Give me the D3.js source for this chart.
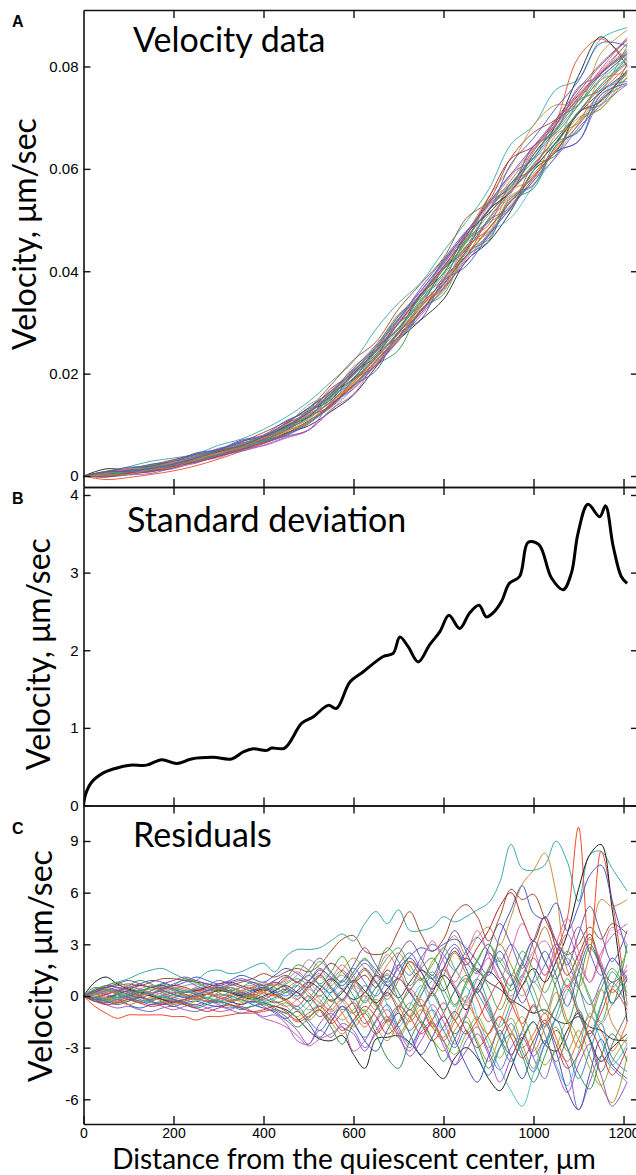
<!DOCTYPE html>
<html><head><meta charset="utf-8">
<script src="https://cdn.jsdelivr.net/npm/d3@7"></script>
<style>
html,body{margin:0;padding:0;background:#fff;}
svg{display:block;}
.tick text{font-family:"Liberation Sans",Arial,sans-serif;font-size:15px;fill:#000;}
.xt .tick text{font-size:14px;}
.big{font-family:Lato,"Noto Sans",sans-serif;fill:#000;}
.letter{font-family:"Liberation Sans",Arial,sans-serif;font-weight:bold;font-size:16px;fill:#000;}
</style></head><body>
<svg id="chart" width="636" height="1175"></svg>
<script>
// ---------- data ----------
const distanceA = [0,50,100,150,200,250,300,350,400,450,500,550,600,650,700,750,800,850,900,950,1000,1050,1100,1150,1208];
const distanceC = [0,25,50,75,100,125,150,175,200,225,250,275,300,325,350,375,400,425,450,475,500,525,550,575,600,625,650,675,700,725,750,775,800,825,850,875,900,925,950,975,1000,1025,1050,1075,1100,1125,1150,1175,1208];

const velocitySeries = [
[0,.0009,.0018,.0029,.0035,.0043,.0060,.0072,.0091,.0115,.0145,.0184,.0224,.0287,.0338,.0378,.0439,.0496,.0559,.0648,.0685,.0755,.0775,.0854,.0876],
[0,-.0007,-.0003,.0003,.0010,.0020,.0033,.0048,.0063,.0082,.0106,.0138,.0182,.0233,.0280,.0335,.0383,.0460,.0490,.0572,.0602,.0690,.0818,.0854,.0810],
[0,.0014,.0012,.0019,.0026,.0037,.0049,.0058,.0076,.0090,.0126,.0149,.0201,.0234,.0298,.0334,.0405,.0442,.0519,.0556,.0628,.0685,.0782,.0858,.0800],
[0,.0004,.0008,.0015,.0019,.0034,.0044,.0053,.0068,.0084,.0098,.0126,.0158,.0213,.0265,.0305,.0345,.0420,.0457,.0518,.0597,.0633,.0710,.0732,.0793],
[0,.0008,.0015,.0022,.0032,.0042,.0050,.0066,.0085,.0106,.0132,.0178,.0227,.0262,.0326,.0376,.0426,.0503,.0537,.0622,.0671,.0697,.0750,.0803,.0851],
[0,.0000,.0011,.0014,.0026,.0035,.0047,.0061,.0076,.0097,.0127,.0158,.0214,.0246,.0313,.0349,.0421,.0474,.0545,.0606,.0685,.0725,.0725,.0826,.0871],
[0,.0007,.0013,.0023,.0028,.0045,.0052,.0070,.0080,.0108,.0127,.0163,.0206,.0253,.0304,.0368,.0423,.0478,.0517,.0610,.0660,.0719,.0772,.0846,.0840],
[0,.0006,.0014,.0021,.0028,.0042,.0048,.0060,.0074,.0102,.0133,.0166,.0204,.0252,.0308,.0356,.0403,.0458,.0535,.0563,.0644,.0670,.0725,.0786,.0845],
[0,-.0002,.0002,.0005,.0016,.0025,.0039,.0048,.0060,.0076,.0090,.0128,.0172,.0216,.0264,.0319,.0364,.0424,.0473,.0530,.0576,.0633,.0654,.0735,.0765],
[0,.0001,.0005,.0011,.0014,.0029,.0036,.0052,.0059,.0074,.0089,.0130,.0160,.0223,.0268,.0322,.0378,.0440,.0497,.0552,.0634,.0689,.0740,.0795,.0857],
[0,.0007,.0009,.0019,.0023,.0036,.0047,.0055,.0069,.0088,.0106,.0137,.0178,.0220,.0273,.0326,.0361,.0438,.0467,.0547,.0570,.0647,.0700,.0718,.0780],
[0,.0005,.0010,.0012,.0025,.0032,.0044,.0059,.0068,.0095,.0110,.0157,.0182,.0246,.0270,.0346,.0373,.0455,.0477,.0505,.0567,.0625,.0688,.0744,.0787],
[0,.0004,.0009,.0020,.0026,.0041,.0049,.0063,.0076,.0100,.0139,.0161,.0196,.0243,.0290,.0341,.0408,.0446,.0521,.0570,.0620,.0651,.0732,.0754,.0821],
[0,.0009,.0012,.0019,.0028,.0037,.0052,.0064,.0075,.0103,.0123,.0171,.0200,.0243,.0298,.0354,.0409,.0468,.0543,.0620,.0644,.0693,.0744,.0788,.0830],
[0,-.0001,.0003,.0009,.0016,.0031,.0039,.0056,.0065,.0079,.0102,.0137,.0177,.0206,.0278,.0306,.0381,.0410,.0470,.0525,.0582,.0633,.0654,.0745,.0767],
[0,.0001,.0006,.0011,.0020,.0028,.0042,.0051,.0067,.0080,.0105,.0134,.0176,.0216,.0246,.0325,.0355,.0435,.0463,.0538,.0562,.0645,.0675,.0735,.0777],
[0,.0003,.0007,.0014,.0021,.0038,.0045,.0061,.0074,.0096,.0120,.0144,.0182,.0230,.0282,.0332,.0367,.0445,.0483,.0540,.0590,.0641,.0695,.0750,.0800],
[0,.0004,.0013,.0016,.0029,.0040,.0049,.0067,.0077,.0097,.0126,.0162,.0204,.0250,.0306,.0356,.0415,.0470,.0530,.0566,.0644,.0675,.0760,.0782,.0825],
[0,.0000,.0008,.0010,.0021,.0032,.0046,.0056,.0071,.0089,.0116,.0152,.0189,.0234,.0282,.0350,.0385,.0462,.0495,.0522,.0597,.0653,.0710,.0765,.0809],
[0,.0002,.0011,.0014,.0018,.0033,.0048,.0058,.0072,.0098,.0115,.0162,.0190,.0250,.0287,.0355,.0396,.0472,.0513,.0558,.0602,.0651,.0708,.0750,.0789],
[0,.0006,.0007,.0016,.0021,.0034,.0045,.0057,.0073,.0086,.0122,.0143,.0198,.0230,.0298,.0334,.0409,.0447,.0527,.0560,.0638,.0685,.0740,.0790,.0833],
[0,.0001,.0006,.0015,.0019,.0031,.0042,.0054,.0067,.0086,.0112,.0145,.0184,.0232,.0264,.0334,.0367,.0428,.0481,.0538,.0584,.0635,.0695,.0718,.0791],
[0,.0006,.0011,.0017,.0026,.0038,.0054,.0063,.0077,.0092,.0130,.0154,.0208,.0238,.0306,.0362,.0417,.0476,.0531,.0590,.0620,.0695,.0725,.0778,.0823],
[0,-.0001,.0007,.0009,.0020,.0029,.0040,.0053,.0066,.0078,.0090,.0142,.0170,.0218,.0266,.0314,.0367,.0418,.0471,.0524,.0577,.0623,.0680,.0724,.0765],
[0,.0009,.0013,.0019,.0027,.0035,.0051,.0060,.0079,.0094,.0130,.0165,.0206,.0252,.0316,.0350,.0421,.0458,.0535,.0572,.0627,.0680,.0735,.0755,.0841],
[0,.0004,.0010,.0012,.0024,.0033,.0043,.0060,.0070,.0090,.0118,.0136,.0188,.0216,.0282,.0318,.0389,.0428,.0503,.0556,.0607,.0659,.0710,.0760,.0807],
[0,.0007,.0006,.0017,.0025,.0032,.0049,.0057,.0076,.0095,.0123,.0156,.0198,.0246,.0297,.0350,.0405,.0463,.0521,.0578,.0636,.0687,.0738,.0786,.0827],
[0,.0000,.0005,.0011,.0018,.0034,.0041,.0057,.0071,.0090,.0114,.0146,.0187,.0230,.0279,.0330,.0383,.0438,.0499,.0526,.0606,.0627,.0712,.0726,.0805],
[0,.0005,.0014,.0016,.0027,.0036,.0051,.0061,.0080,.0101,.0126,.0162,.0202,.0250,.0303,.0358,.0413,.0472,.0529,.0586,.0640,.0695,.0746,.0792,.0845],
[0,.0002,.0007,.0012,.0020,.0027,.0042,.0050,.0068,.0082,.0104,.0140,.0176,.0224,.0270,.0322,.0373,.0430,.0459,.0544,.0568,.0651,.0672,.0754,.0771],
[0,.0006,.0008,.0018,.0022,.0039,.0050,.0063,.0078,.0099,.0124,.0160,.0198,.0243,.0290,.0344,.0397,.0456,.0510,.0566,.0616,.0673,.0726,.0774,.0817],
[0,-.0002,.0006,.0008,.0019,.0027,.0038,.0051,.0064,.0083,.0108,.0140,.0178,.0226,.0272,.0324,.0375,.0430,.0483,.0536,.0586,.0637,.0686,.0738,.0785],
[0,.0008,.0017,.0019,.0031,.0043,.0051,.0068,.0078,.0104,.0133,.0166,.0210,.0256,.0312,.0362,.0419,.0476,.0533,.0590,.0644,.0697,.0756,.0806,.0853],
[0,.0001,.0009,.0015,.0023,.0035,.0042,.0059,.0069,.0094,.0118,.0154,.0192,.0239,.0286,.0340,.0393,.0448,.0501,.0556,.0610,.0659,.0712,.0764,.0815],
[0,.0002,.0003,.0013,.0017,.0033,.0044,.0056,.0074,.0089,.0104,.0150,.0174,.0236,.0266,.0338,.0369,.0450,.0475,.0558,.0580,.0667,.0690,.0774,.0787],
[0,.0008,.0009,.0015,.0023,.0035,.0050,.0059,.0077,.0096,.0124,.0157,.0200,.0246,.0300,.0354,.0409,.0466,.0519,.0572,.0622,.0677,.0734,.0786,.0825]
];

const residualSeries = [
[0,0.4,0.6,0.8,1.0,1.3,1.5,1.6,1.3,1.0,0.9,1.4,1.5,1.3,1.4,1.7,1.9,1.4,2.3,2.7,2.7,2.8,3.2,3.6,3.2,4.2,4.9,4.2,5.0,3.8,3.8,4.0,4.6,4.3,4.6,5.0,5.4,6.6,8.8,7.4,7.3,7.6,9.0,7.8,5.5,8.2,8.4,7.4,6.1],
[0,-0.6,-1.0,-1.3,-1.1,-1.1,-1.1,-1.1,-1.2,-1.2,-1.4,-1.2,-1.2,-1.1,-1.0,-1.0,-0.9,-0.8,-1.0,-1.5,-1.2,-0.8,-1.4,-0.6,-1.0,0.2,-0.5,-1.5,-0.8,0.4,-0.5,-1.8,-1.0,0.3,1.0,-0.2,-1.5,-0.4,1.2,0.5,-1.0,0.8,2.5,4.5,9.8,2.5,8.4,5.5,-0.5],
[0,0.8,1.1,0.7,0.4,0.3,0.5,0.6,0.4,0.2,0.3,0.5,0.4,0.2,0.0,0.2,0.4,0.1,-0.2,0.3,0.8,0.4,-0.3,0.2,0.9,0.3,-0.4,0.4,1.0,0.2,-0.6,0.2,1.2,0.4,-0.8,0.5,1.4,0.8,-0.4,0.6,1.6,0.8,2.0,3.6,6.2,8.2,8.8,5.0,-1.5],
[0,0.3,0.1,-0.1,0,0.2,0.1,-0.2,-0.3,-0.2,0,0.1,-0.1,-0.3,-0.5,-0.3,-0.4,-0.6,-0.8,-1.3,-2.0,-2.5,-2.6,-2.3,-3.4,-4.2,-2.5,-2.4,-2.3,-2.7,-3.5,-4.2,-4.8,-3.6,-3.0,-3.6,-4.8,-5.5,-4.2,-2.5,-1.5,-2.8,-3.2,-2.0,-1.0,-2.5,-3.8,-3.0,-2.2],
[0,0.3,0.5,0.6,0.7,0.6,0.8,1.0,1.0,0.9,0.8,0.7,0.5,0.6,0.8,1.0,1.3,1.1,1.4,1.6,1.4,1.8,2.6,3.3,3.5,2.6,2.4,2.6,3.8,4.9,3.6,2.6,3.3,4.8,5.3,4.6,3.2,4.6,6.2,5.6,5.9,4.5,3.2,2.4,3.0,4.0,3.3,4.2,3.6],
[0,-0.2,-0.3,0.1,0.3,0.2,0,0.2,0.4,0.3,0.1,-0.1,0.2,0.5,0.3,0,0.4,0.8,0.5,0.2,0.9,1.3,0.6,1.5,2.2,1.6,0.8,1.8,2.5,1.5,0.9,2.0,2.8,3.5,2.4,3.4,4.0,3.0,4.6,6.5,7.3,8.3,6.0,1.5,0.5,2.5,5.6,5.2,5.6],
[0,0.2,0.4,0.3,0.5,0.7,0.9,0.8,0.6,0.8,1.1,0.9,0.7,0.9,1.2,1.0,0.8,1.2,1.6,1.3,0.9,1.5,1.1,0.6,1.4,2.1,1.5,0.8,1.6,2.3,2.8,2.6,3.0,3.3,2.8,2.0,1.2,3.5,5.0,6.4,4.8,4.5,5.4,3.8,5.2,7.0,7.6,5.5,2.5],
[0,0.5,0.3,0.2,0.6,0.9,0.7,0.4,0.6,1.0,0.8,0.5,0.3,0.5,0.2,-0.1,0.2,0.6,1.0,1.8,1.5,0.7,1.4,2.3,1.2,0.2,1.4,2.8,2.0,0.6,1.6,2.2,1.0,-0.5,0.8,2.1,3.0,1.5,0.3,1.8,3.2,2.0,0.5,-1.5,0.5,2.8,1.6,-0.5,3.0],
[0,-0.2,-0.5,-0.7,-0.6,-0.8,-0.9,-0.7,-0.6,-0.8,-0.9,-0.7,-0.6,-0.8,-1.0,-0.9,-1.2,-1.1,-1.6,-2.6,-2.8,-2.0,-2.4,-1.6,-2.0,-3.0,-2.2,-1.4,-2.4,-3.2,-2.1,-1.5,-2.9,-4.0,-2.6,-1.8,-3.2,-4.3,-3.0,-2.2,-3.6,-4.8,-3.2,-4.0,-6.6,-5.0,-3.5,-4.2,-5.0],
[0,0.1,-0.2,-0.4,-0.3,-0.1,-0.3,-0.6,-0.8,-0.6,-0.5,-0.7,-0.9,-0.8,-0.6,-0.9,-1.3,-1.5,-1.8,-2.3,-2.9,-2.5,-2.2,-1.8,-3.2,-2.6,-1.5,-0.8,-2.0,-3.0,-1.8,-0.5,-1.5,-2.8,-1.0,0.4,-0.8,-2.2,-0.8,1.0,2.2,1.2,2.4,3.6,2.0,0.8,2.5,3.5,4.2],
[0,0.2,0.4,0.2,0.1,0.3,0.5,0.3,0.1,0.0,0.2,0.4,0.2,-0.1,-0.3,-0.1,-0.3,-0.6,-0.4,-0.8,-1.2,-0.6,-1.5,-2.2,-1.4,-0.8,-1.8,-2.6,-1.5,-0.4,-1.4,-2.5,-3.2,-2.0,-1.2,-2.6,-3.8,-2.4,-1.3,-2.8,-4.2,-2.8,-1.8,-3.2,-2.0,-3.5,-5.2,-6.2,-3.5],
[0,-0.1,0.2,0.4,0.2,0.0,-0.2,0.1,0.3,0.1,-0.2,-0.3,-0.1,0.2,0.1,-0.2,-0.4,-0.2,0.3,-0.2,-0.8,-0.4,0.5,-0.3,-1.0,-0.2,0.8,-0.5,-1.8,-0.6,0.6,-0.8,-2.0,-0.9,0.5,-1.2,-2.8,-4.2,-5.5,-6.4,-4.5,-2.6,-4.0,-5.2,-3.2,-1.0,-2.6,-4.0,-2.8],
[0,0.3,0.1,-0.1,0.1,0.4,0.6,0.5,0.4,0.6,0.7,0.5,0.4,0.3,0.5,0.6,0.4,0.3,0.8,1.2,2.1,1.6,0.9,1.2,0.4,-0.3,0.5,1.3,0.2,-0.8,0.1,0.9,1.5,0.5,-0.4,0.3,1.6,2.2,1.0,0.0,0.8,-0.2,-1.4,0.2,1.2,-0.2,-1.6,-0.5,0.6],
[0,0.3,0.6,0.5,0.4,0.6,0.5,0.4,0.6,0.5,0.3,0.5,0.7,0.8,0.6,0.4,0.3,0.6,1.1,0.8,0.5,1.2,1.9,1.4,0.8,1.2,0.5,1.5,1.0,2.0,1.4,0.4,1.6,2.6,1.8,2.8,3.8,5.2,6.0,4.5,3.2,4.6,2.8,1.2,2.4,3.6,1.8,0.8,1.5],
[0,-0.3,-0.4,-0.2,-0.5,-0.7,-0.5,-0.4,-0.6,-0.4,-0.3,-0.5,-0.6,-0.4,-0.2,-0.5,-0.7,-0.9,-1.3,-0.9,-1.6,-2.4,-1.5,-0.6,-1.5,-2.6,-3.2,-2.0,-1.0,-2.2,-3.4,-2.4,-1.2,-2.5,-4.0,-5.0,-3.5,-2.0,-3.5,-4.8,-3.0,-1.6,-3.2,-5.5,-6.6,-4.5,-2.5,-4.0,-4.8],
[0,-0.3,-0.2,0.0,-0.2,-0.4,-0.3,-0.1,-0.2,-0.4,-0.6,-0.4,-0.3,-0.5,-0.7,-0.6,-0.5,-0.8,-1.2,-1.8,-1.3,-0.8,-1.8,-2.8,-1.6,-1.0,-2.2,-3.6,-4.2,-2.6,-1.5,-2.5,-3.8,-2.5,-1.5,-2.8,-4.2,-3.0,-2.2,-3.5,-5.0,-3.5,-2.0,-3.0,-4.5,-5.4,-3.5,-2.2,-3.8],
[0,0.1,0.0,-0.2,-0.1,0.1,0.0,-0.2,-0.1,0.2,0.4,0.2,0.0,0.1,0.3,0.5,0.2,0.0,0.4,0.8,0.2,-0.4,-0.8,-0.2,-1.0,-1.8,-0.8,0.2,-0.6,-1.5,-0.8,-1.8,-2.6,-1.5,-0.5,-1.4,-2.2,-1.2,-2.0,-3.0,-2.2,-1.0,-2.4,-3.8,-2.5,-1.2,-2.0,-3.2,-1.5],
[0,0.2,0.1,0.3,0.5,0.4,0.2,0.4,0.7,0.9,0.6,0.3,0.4,0.7,0.9,0.7,0.5,0.8,0.5,0.2,0.8,1.6,1.0,0.4,1.2,1.9,1.2,0.6,1.8,2.5,1.6,1.0,2.2,3.0,2.0,1.3,2.5,1.5,0.6,2.0,3.2,2.0,1.0,2.5,4.0,2.5,1.2,2.2,1.0],
[0,-0.1,-0.3,-0.2,0.0,-0.2,-0.4,-0.3,-0.1,0.0,-0.2,-0.1,0.1,0.0,-0.2,-0.4,-0.1,0.2,-0.3,-0.8,-0.2,0.6,0.0,-0.8,-0.3,0.6,-0.4,-1.4,-0.6,0.3,1.0,0.2,-0.8,0.3,1.2,0.2,-1.0,-2.5,-3.8,-2.6,-1.5,-2.8,-1.2,0.4,-1.0,-2.2,-0.5,0.8,-0.6],
[0,-0.2,-0.1,0.1,0.3,0.2,0.0,-0.2,-0.4,-0.3,-0.1,0.1,0.3,0.2,0.0,-0.2,0.0,0.3,0.6,0.2,-0.3,0.4,1.0,0.4,-0.2,0.2,1.2,0.6,-0.1,0.8,1.5,1.0,0.3,1.4,2.2,1.5,0.8,0.4,-0.2,-0.6,-1.0,-0.8,-1.4,-1.6,-1.2,-1.8,-2.0,-2.5,-2.6],
[0,0.2,0.3,0.1,-0.1,0.0,0.2,0.1,-0.1,-0.2,0.0,0.2,0.0,-0.2,-0.1,0.2,0.1,-0.3,-0.6,-0.2,0.4,-0.2,-0.9,-0.3,0.6,0.0,-0.8,0.2,1.0,0.3,-0.6,0.5,1.6,0.6,-0.3,1.0,2.2,1.0,0.0,1.2,2.6,3.2,2.0,0.6,2.0,3.3,2.0,0.5,1.8],
[0,0.0,-0.2,-0.4,-0.2,0.0,0.1,-0.1,-0.3,-0.5,-0.3,-0.1,-0.3,-0.6,-0.4,-0.2,-0.5,-0.3,-0.6,-1.2,-0.6,0.0,-0.7,-1.4,-0.8,0.0,-0.6,-1.6,-2.4,-1.4,-0.6,-1.6,-2.6,-3.4,-2.2,-1.2,-2.4,-3.6,-2.2,-1.2,-2.8,-4.0,-3.0,-1.5,-2.5,-4.2,-5.2,-3.8,-2.4],
[0,0.1,0.3,0.5,0.3,0.1,0.3,0.6,0.4,0.2,0.4,0.6,0.9,0.7,0.5,0.3,0.5,0.3,0.0,0.6,1.2,0.6,0.2,0.9,1.6,0.8,0.0,0.9,1.8,1.2,2.2,3.0,2.4,1.5,2.6,3.4,2.6,2.0,3.0,2.0,0.8,1.8,3.0,2.0,0.5,-0.5,0.8,2.2,0.8],
[0,-0.2,-0.4,-0.3,-0.1,-0.3,-0.5,-0.4,-0.2,-0.4,-0.5,-0.3,-0.5,-0.7,-0.5,-0.3,-0.6,-1.0,-1.4,-2.0,-2.8,-1.6,-1.0,-1.8,-2.2,-3.2,-2.0,-1.2,-2.2,-3.5,-2.6,-1.6,-2.6,-4.0,-3.2,-2.2,-3.4,-5.0,-3.6,-2.4,-3.5,-2.6,-4.2,-5.6,-4.0,-2.8,-4.6,-6.4,-5.0],
[0,0.4,0.6,0.8,0.5,0.3,0.5,0.7,0.5,0.3,0.1,0.3,0.6,0.4,0.2,0.4,0.7,0.5,0.2,0.8,1.2,2.0,1.3,0.6,1.4,2.2,1.4,2.2,2.8,1.8,1.0,1.8,2.8,1.6,0.8,2.0,3.0,2.0,1.2,2.6,1.5,0.2,1.5,2.6,1.5,0.0,-1.5,0.5,2.6],
[0,-0.1,0.1,0.3,0.2,0.0,-0.2,0.0,0.2,0.1,-0.1,-0.3,-0.2,0.0,0.2,0.0,-0.2,0.1,-0.2,-0.6,0.0,-0.8,-1.6,-1.0,-0.4,-1.3,-2.2,-1.4,-0.6,-1.2,-2.2,-1.4,-0.4,-1.4,-2.2,-1.4,-0.2,0.8,-0.4,-1.6,-0.5,-1.6,-0.6,0.6,-1.0,-2.2,-1.0,0.4,-0.8],
[0,0.2,0.4,0.1,-0.2,0.0,0.3,0.5,0.3,0.0,-0.2,0.1,0.4,0.2,-0.1,0.1,0.4,0.7,0.3,-0.2,0.5,1.1,0.4,-0.3,0.6,1.5,0.8,-0.2,0.9,2.0,1.0,0.0,1.2,2.5,1.3,0.2,1.6,3.0,1.8,0.6,2.4,4.0,2.2,0.5,1.8,3.4,1.6,0.2,1.2],
[0,-0.1,-0.3,-0.5,-0.3,-0.1,-0.3,-0.5,-0.4,-0.2,0.0,-0.2,-0.4,-0.3,-0.1,0.1,-0.1,-0.4,-0.2,0.2,-0.4,-1.2,-0.6,0.3,-0.5,-1.6,-0.8,0.2,-0.9,-2.0,-1.0,0.2,-1.0,-2.2,-1.2,0.4,-0.6,-2.4,-3.4,-2.0,-0.6,-2.2,-3.8,-2.4,-0.8,-2.6,-4.4,-2.8,-1.0],
[0,0.3,0.2,0.4,0.6,0.4,0.2,0.3,0.5,0.4,0.2,0.4,0.6,0.5,0.3,0.5,0.8,0.6,0.9,1.4,0.8,0.3,1.0,1.8,1.0,0.2,1.2,2.4,1.5,0.4,1.8,3.2,2.0,0.8,2.2,3.8,2.4,1.0,2.6,4.2,2.8,1.2,3.0,4.5,2.6,0.8,2.2,4.0,3.0],
[0,-0.2,-0.1,0.1,-0.1,-0.3,-0.2,0.0,-0.2,-0.5,-0.7,-0.5,-0.3,-0.5,-0.8,-0.6,-0.4,-0.7,-1.0,-0.6,-1.4,-2.0,-1.2,-0.6,-1.6,-2.4,-1.4,-0.5,-1.8,-2.8,-1.8,-0.8,-2.0,-3.0,-2.0,-3.4,-4.6,-3.0,-1.6,-3.2,-4.4,-2.8,-1.4,-3.0,-4.8,-3.2,-1.6,-3.6,-4.4],
[0,0.1,0.3,0.2,0.0,0.2,0.4,0.2,0.0,0.2,0.5,0.7,0.5,0.3,0.5,0.8,0.6,0.4,0.7,1.0,0.6,0.0,0.8,1.5,0.6,-0.4,0.5,1.2,0.2,-0.8,0.4,1.4,0.4,-0.6,0.6,1.6,0.5,-0.8,0.6,1.8,0.4,-1.0,0.8,2.2,0.6,-1.2,0.4,1.6,0.2],
[0,-0.3,-0.5,-0.4,-0.2,-0.4,-0.6,-0.5,-0.3,-0.5,-0.7,-0.9,-0.7,-0.5,-0.7,-0.9,-0.8,-0.6,-0.9,-1.4,-1.0,-0.6,-1.2,-2.0,-1.4,-0.6,-1.2,-2.2,-1.6,-0.8,-1.6,-2.6,-1.8,-0.9,-2.0,-3.0,-2.2,-1.2,-2.4,-3.6,-2.6,-1.4,-2.8,-4.2,-3.4,-2.0,-3.2,-4.6,-3.0],
[0,0.2,0.5,0.7,0.9,0.7,0.5,0.7,0.9,1.1,0.9,0.7,0.6,0.8,1.0,0.8,0.6,0.9,1.2,0.8,1.5,2.2,1.4,0.8,1.8,2.8,1.8,1.0,2.4,3.2,2.2,1.2,2.6,3.8,2.6,1.4,2.8,4.2,3.0,1.6,3.2,4.6,3.2,1.8,3.6,5.2,3.6,2.0,3.8],
[0,0.0,-0.2,-0.1,0.1,0.3,0.1,-0.1,0.1,0.3,0.1,-0.1,-0.3,-0.1,0.1,-0.1,-0.3,-0.1,0.2,0.6,0.0,-0.6,0.2,0.9,0.0,-0.9,0.1,1.0,-0.2,-1.2,0.0,1.2,0.0,-1.4,-0.2,1.0,-0.4,-1.8,-0.4,1.2,-0.2,-1.8,-0.6,1.0,-0.8,-2.4,-0.6,1.4,0.0],
[0,0.1,-0.1,-0.3,-0.5,-0.3,-0.1,-0.3,-0.5,-0.3,-0.1,0.1,-0.1,-0.3,-0.2,0.0,0.2,0.0,-0.3,-0.8,-1.4,-0.8,-0.2,-1.0,-1.8,-1.0,-0.2,-1.2,-2.2,-1.2,-0.2,-1.4,-2.4,-1.2,0.0,-1.6,-3.0,-1.6,-0.2,-1.8,-3.2,-1.8,0.2,-1.4,-3.0,-1.4,0.4,-1.6,-2.8],
[0,0.3,0.5,0.3,0.1,-0.1,0.1,0.3,0.1,-0.1,0.1,0.3,0.5,0.3,0.1,0.3,0.5,0.2,0.4,0.0,0.6,1.2,0.5,-0.2,0.8,1.6,0.8,0.0,1.2,2.2,1.4,0.4,1.6,2.8,1.6,0.2,1.4,2.6,1.2,-0.4,1.0,2.6,1.2,-0.6,1.4,3.0,1.6,-0.4,1.0]
];

const stdDistance = [0,5,18,44,66,103,140,174,207,240,288,329,355,377,407,418,447,485,510,544,562,592,621,666,688,703,721,744,769,792,812,836,858,879,895,910,929,946,969,988,1012,1040,1066,1084,1099,1121,1147,1160,1177,1195,1208];
const stdVelocity = [0,0.15,0.30,0.42,0.47,0.52,0.52,0.59,0.54,0.60,0.62,0.60,0.69,0.73,0.71,0.74,0.74,1.06,1.14,1.29,1.25,1.59,1.72,1.92,1.96,2.17,2.05,1.85,2.07,2.24,2.45,2.28,2.48,2.58,2.43,2.48,2.63,2.86,2.95,3.39,3.36,2.93,2.78,2.99,3.51,3.88,3.72,3.86,3.34,2.95,2.86];

const xTicks = [0,200,400,600,800,1000,1200];
const yTicksA = [0,0.02,0.04,0.06,0.08];
const yTicksB = [0,1,2,3,4];
const yTicksC = [-6,-3,0,3,6,9];
const seriesColors = ["#3aa6a8","#ee4a2a","#1c1c1c","#222222","#9c4a2a","#c68c3a","#4456c4","#3c9a3c","#8a63c9","#c25ab0","#9e9a32","#52bcd9","#9a9a9a","#a8262a","#3e4fb0","#2f8f4e","#f0642a","#7a5ab8","#2aa0a0","#333333","#d26fb5","#8bb33a","#5b6fd6","#9b4fc0","#4caf50","#e23b3b","#b07a2a","#6a6a6a","#e06a9a","#3a7fc0","#58a058","#c03a3a","#7050a0","#30a090","#d08030","#505ab0"];
const panelTitles = ["Velocity data","Standard deviation","Residuals"];
const panelLetters = ["A","B","C"];
const yAxisTitle = "Velocity, \u03bcm/sec";
const xAxisTitle = "Distance from the quiescent center, \u03bcm";

// ---------- layout ----------
const svg = d3.select("#chart");
const X0 = 83.5, XR = 639;
const x = d3.scaleLinear().domain([0, 1234.4]).range([X0, XR]);

const panels = [
  {top:10, bottom:487},
  {top:487, bottom:805.5},
  {top:805.5, bottom:1124}
];
function fitScale(d0, r0, d1, r1, top, bottom){
  const s = d3.scaleLinear().domain([d0,d1]).range([r0,r1]);
  return s.domain([s.invert(bottom), s.invert(top)]).range([bottom, top]);
}
const yA = fitScale(0, 476, 0.08, 66.5, panels[0].top, panels[0].bottom);
const yB = fitScale(0, 805.5, 4, 495, panels[1].top, panels[1].bottom);
const yC = fitScale(-6, 1099.3, 9, 841, panels[2].top, panels[2].bottom);

const defs = svg.append("defs");
panels.forEach((p,i)=>{
  defs.append("clipPath").attr("id","clip"+i).append("rect")
    .attr("x",X0).attr("y",p.top).attr("width",XR-X0).attr("height",p.bottom-p.top);
});

const curve = d3.curveCatmullRom.alpha(0.5);

// Panel A lines
const gA = svg.append("g").attr("clip-path","url(#clip0)");
const lineA = d3.line().x((d,i)=>x(distanceA[i])).y(d=>yA(d)).curve(curve);
velocitySeries.forEach((s,i)=>{
  gA.append("path").attr("d",lineA(s)).attr("fill","none")
    .attr("stroke",seriesColors[i%seriesColors.length]).attr("stroke-width",0.9);
});

// Panel B line
const gB = svg.append("g").attr("clip-path","url(#clip1)");
const lineB = d3.line().x((d,i)=>x(stdDistance[i])).y(d=>yB(d)).curve(curve);
gB.append("path").attr("d",lineB(stdVelocity)).attr("fill","none")
  .attr("stroke","#000").attr("stroke-width",3).attr("stroke-linejoin","round");

// Panel C lines
const gC = svg.append("g").attr("clip-path","url(#clip2)");
const lineC = d3.line().x((d,i)=>x(distanceC[i])).y(d=>yC(d)).curve(curve);
residualSeries.forEach((s,i)=>{
  gC.append("path").attr("d",lineC(s)).attr("fill","none")
    .attr("stroke",seriesColors[i%seriesColors.length]).attr("stroke-width",1);
});

// ---------- axes ----------
const fmt = d => String(d);
function styleAxis(g){
  g.selectAll(".domain").attr("stroke","#111").attr("stroke-width",1.6);
  g.selectAll(".tick line").attr("stroke","#111").attr("stroke-width",1.4);
}
const innerX = xTicks.filter(d=>d>0);
svg.append("g").attr("transform","translate(0,10)")
  .call(d3.axisTop(x).tickValues(innerX).tickSizeInner(-8).tickSizeOuter(0).tickFormat(""))
  .call(styleAxis);
svg.append("g").attr("transform","translate(0,487)")
  .call(d3.axisBottom(x).tickValues(innerX).tickSizeInner(-8).tickSizeOuter(0).tickFormat(""))
  .call(styleAxis);
svg.append("g").attr("transform","translate(0,487)")
  .call(d3.axisTop(x).tickValues(innerX).tickSizeInner(-8).tickSizeOuter(0).tickFormat(""))
  .call(styleAxis);
svg.append("g").attr("transform","translate(0,805.5)")
  .call(d3.axisBottom(x).tickValues(innerX).tickSizeInner(-8).tickSizeOuter(0).tickFormat(""))
  .call(styleAxis);
svg.append("g").attr("transform","translate(0,805.5)")
  .call(d3.axisTop(x).tickValues(innerX).tickSizeInner(-8).tickSizeOuter(0).tickFormat(""))
  .call(styleAxis);
svg.append("g").attr("class","xt").attr("transform","translate(0,1124)")
  .call(d3.axisBottom(x).tickValues(xTicks).tickSizeInner(-8).tickSizeOuter(0).tickPadding(4).tickFormat(fmt))
  .call(styleAxis);

[[yA,yTicksA],[yB,yTicksB],[yC,yTicksC]].forEach(([y,t])=>{
  svg.append("g").attr("transform",`translate(${X0},0)`)
    .call(d3.axisLeft(y).tickValues(t).tickSizeInner(-7).tickSizeOuter(0).tickPadding(5).tickFormat(fmt))
    .call(styleAxis);
  svg.append("g").attr("transform",`translate(${XR},0)`)
    .call(d3.axisRight(y).tickValues(t).tickSizeInner(-8).tickSizeOuter(0).tickFormat(""))
    .call(styleAxis);
});

// ---------- text ----------
const titlePos = [[133,52],[127,532],[133,847]];
panelTitles.forEach((t,i)=>{
  svg.append("text").attr("class","big").attr("x",titlePos[i][0]).attr("y",titlePos[i][1])
    .attr("font-size",34).text(t);
});
const letterPos = [[12,27],[12,504],[12,834]];
panelLetters.forEach((t,i)=>{
  svg.append("text").attr("class","letter").attr("x",letterPos[i][0]).attr("y",letterPos[i][1]).text(t);
});
const ylabPos = [[36,234],[50,654],[52,966]];
ylabPos.forEach(p=>{
  svg.append("text").attr("class","big").attr("font-size",32)
    .attr("text-anchor","middle")
    .attr("transform",`translate(${p[0]},${p[1]}) rotate(-90)`)
    .text(yAxisTitle);
});
svg.append("text").attr("class","big").attr("font-size",28)
  .attr("text-anchor","middle").attr("x",354).attr("y",1169).text(xAxisTitle);
</script>
</body></html>
